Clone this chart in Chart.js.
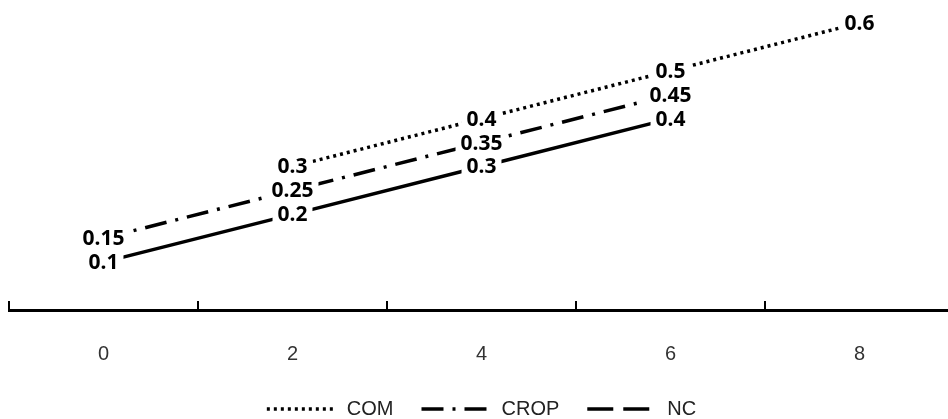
<!DOCTYPE html>
<html>
<head>
<meta charset="utf-8">
<script src="https://cdn.jsdelivr.net/npm/chart.js@4"></script>
<style>
  html, body { margin: 0; padding: 0; background: #fff; overflow: hidden; }
  #wrap { width: 960px; height: 419px; position: relative; }
</style>
</head>
<body>
<div id="wrap"><canvas id="chart"></canvas></div>
<script>
const categories = ["0", "2", "4", "6", "8"];
const comValues = [null, 0.3, 0.4, 0.5, 0.6];
const cropValues = [0.15, 0.25, 0.35, 0.45, null];
const ncValues = [0.1, 0.2, 0.3, 0.4, null];

const SERIES = [
  { label: "COM", data: comValues, dash: [3, 4] },
  { label: "CROP", data: cropValues, dash: [22, 9, 3, 9] },
  { label: "NC", data: ncValues, dash: [] },
];
// legend marker for NC is long-dashed in the original
const LEGEND_DASH = { COM: [3, 4], CROP: [22, 9, 3, 9], NC: [26, 10] };

const LABEL_FONT = 'bold 21px "Noto Sans", "DejaVu Sans", sans-serif';
const AXIS_FONT = '"Liberation Sans", sans-serif';

// white-backed value labels centred on each point
const valueLabels = {
  id: "valueLabels",
  afterDatasetsDraw(chart) {
    const ctx = chart.ctx;
    const items = [];
    ctx.save();
    ctx.font = LABEL_FONT;
    chart.data.datasets.forEach((ds, i) => {
      chart.getDatasetMeta(i).data.forEach((pt, j) => {
        const v = ds.data[j];
        if (v == null) return;
        const txt = String(v);
        items.push({ txt, x: pt.x, y: pt.y, w: ctx.measureText(txt).width });
      });
    });
    ctx.fillStyle = "#fff";
    items.forEach((it) => ctx.fillRect(it.x - it.w / 2 - 5, it.y - 11, it.w + 10, 22));
    ctx.fillStyle = "#000";
    ctx.textAlign = "center";
    ctx.textBaseline = "middle";
    items.forEach((it) => ctx.fillText(it.txt, it.x, it.y + 1));
    ctx.restore();
  },
};

// short tick marks pointing up from the axis, between categories
const upTicks = {
  id: "upTicks",
  afterDraw(chart) {
    const scale = chart.scales.x;
    const ctx = chart.ctx;
    const half = (scale.getPixelForValue(1) - scale.getPixelForValue(0)) / 2;
    const y = chart.chartArea.bottom;
    ctx.save();
    ctx.strokeStyle = "#000";
    ctx.lineWidth = 2;
    ctx.beginPath();
    for (let i = 0; i <= categories.length; i++) {
      const x = Math.round(scale.getPixelForValue(0) - half + i * half * 2);
      ctx.moveTo(x, y);
      ctx.lineTo(x, y - 9);
    }
    ctx.stroke();
    ctx.restore();
  },
};

new Chart(document.getElementById("chart"), {
  type: "line",
  data: {
    labels: categories,
    datasets: SERIES.map((s) => ({
      label: s.label,
      data: s.data,
      borderColor: "#000",
      backgroundColor: "#000",
      borderWidth: 3.5,
      borderDash: s.dash,
      pointRadius: 0,
      tension: 0,
      fill: false,
      clip: false,
    })),
  },
  options: {
    responsive: true,
    maintainAspectRatio: false,
    animation: false,
    layout: { padding: { left: 9, right: 6, top: 23, bottom: -10 } },
    plugins: {
      tooltip: { enabled: false },
      legend: {
        position: "bottom",
        labels: {
          color: "#222",
          font: { family: AXIS_FONT, size: 20 },
          usePointStyle: true,
          pointStyle: "line",
          boxWidth: 70,
          pointStyleWidth: 70,
          padding: 28,
          generateLabels: (chart) =>
            chart.data.datasets.map((ds, i) => ({
              text: ds.label,
              datasetIndex: i,
              strokeStyle: "#000",
              fillStyle: "#000",
              lineWidth: 3.5,
              lineDash: LEGEND_DASH[ds.label],
              pointStyle: "line",
              fontColor: "#222",
            })),
        },
      },
    },
    scales: {
      x: {
        type: "category",
        offset: true,
        grid: { display: false, offset: true, drawTicks: false },
        border: { display: true, color: "#000", width: 3 },
        ticks: {
          color: "#333",
          font: { family: AXIS_FONT, size: 20 },
          padding: 32,
        },
        afterFit: (scale) => {
          scale.height = 61;
        },
      },
      y: {
        display: false,
        min: 0,
        max: 0.6,
      },
    },
  },
  plugins: [valueLabels, upTicks],
});
</script>
</body>
</html>
